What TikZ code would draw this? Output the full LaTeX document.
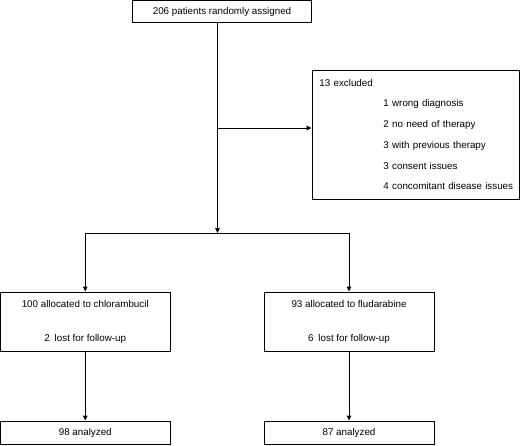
\documentclass[tikz,border=0pt]{standalone}
\usepackage{fontspec}
\setmainfont{Liberation Sans}
\usetikzlibrary{arrows.meta}

\tikzset{
  flowbox/.style={draw, line width=0.9pt, inner sep=0pt, font=\fontsize{9.8}{12}\selectfont},
  flowline/.style={line width=0.9pt},
  >={Triangle[length=5pt,width=4.5pt]}
}

\begin{document}
\begin{tikzpicture}[x=1pt,y=-1pt]
    \useasboundingbox (0,0) rectangle (520,445);

    % Enrolment
    \node[flowbox, minimum width=179.5pt, minimum height=22.5pt] (assigned) at (222,11.5) {206 patients randomly assigned};

    % Exclusions
    \node[flowbox, anchor=north west, minimum width=207pt, minimum height=129pt,
          text width=192pt, inner xsep=7.5pt, align=left,
          font=\fontsize{9.8}{20.7}\selectfont] (excluded) at (311.5,69.5)
      {13 excluded\\
       \hspace*{64pt}\mbox{1 wrong diagnosis}\\
       \hspace*{64pt}\mbox{2 no need of therapy}\\
       \hspace*{64pt}\mbox{3 with previous therapy}\\
       \hspace*{64pt}\mbox{3 consent issues}\\
       \hspace*{64pt}\mbox{4 concomitant disease issues}};

    % Allocation
    \node[flowbox, minimum width=169.5pt, minimum height=59pt, align=center] (chlorambucil) at (85.25,321.5)
      {100 allocated to chlorambucil\\[22pt]2\enspace lost for follow-up};
    \node[flowbox, minimum width=170pt, minimum height=59pt, align=center] (fludarabine) at (349,321.5)
      {93 allocated to fludarabine\\[22pt]6\enspace lost for follow-up};

    % Analysis
    \node[flowbox, minimum width=169.5pt, minimum height=23pt] (chlanalyzed) at (85.25,432.5) {98 analyzed};
    \node[flowbox, minimum width=170pt, minimum height=23pt] (fluanalyzed) at (349,432.5) {87 analyzed};

    % Connectors
    \coordinate (exsplit) at (217.5,128);
    \coordinate (split) at (217.5,233);
    \draw[flowline,->] (assigned.south -| split) -- (split);
    \draw[flowline,->] (exsplit) -- (exsplit -| excluded.west);
    \draw[flowline,->] (split) -| (chlorambucil.north);
    \draw[flowline,->] (split) -| (fludarabine.north);
    \draw[flowline,->] (chlorambucil) -- (chlanalyzed);
    \draw[flowline,->] (fludarabine) -- (fluanalyzed);
\end{tikzpicture}
\end{document}
